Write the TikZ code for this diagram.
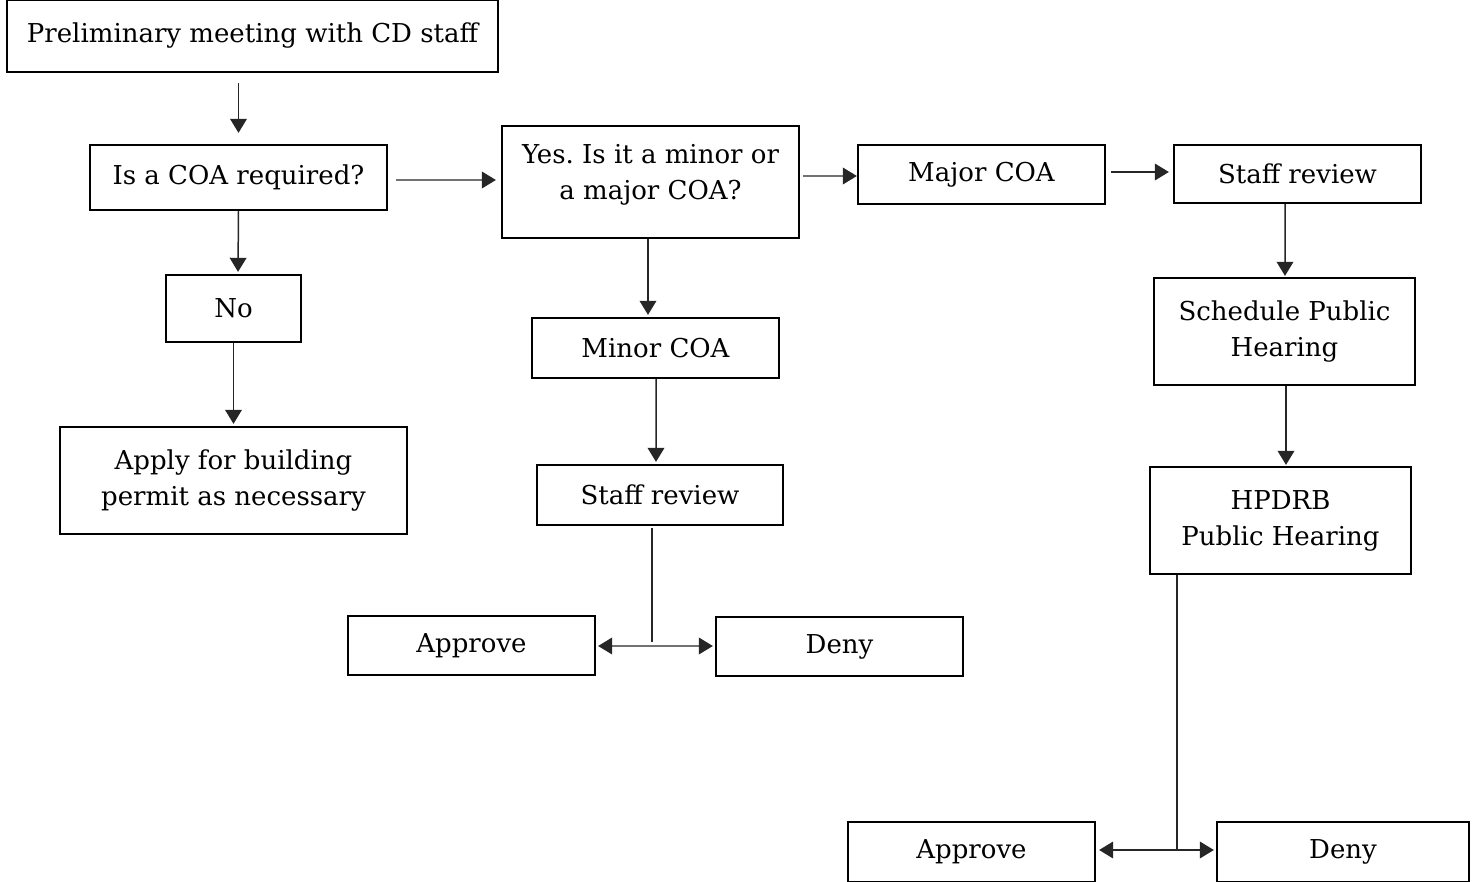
\documentclass[tikz,border=0pt]{standalone}
\usepackage{fontspec}
\setmainfont{DejaVu Serif}
\usetikzlibrary{arrows.meta}
\usetikzlibrary{calc}
\frenchspacing

\tikzset{
  box/.style={draw, line width=1.3pt, align=center, font=\fontsize{14.8}{20.5}\selectfont, inner sep=0pt},
  link/.style={line width=0.85pt, draw=black!85, -{Triangle[length=8pt,width=9.5pt]}},
  twolink/.style={line width=0.85pt, draw=black!85, {Triangle[length=8pt,width=9.5pt]}-{Triangle[length=8pt,width=9.5pt]}},
}

\begin{document}
\begin{tikzpicture}[x=0.02cm,y=-0.02cm]

        \useasboundingbox (0,0) rectangle (1472,882);

        % Left column
        \node[box, minimum width=9.82cm, minimum height=1.44cm] (prelim) at (252.5,36) {Preliminary meeting with CD staff};
        \node[box, minimum width=5.94cm, minimum height=1.30cm] (coareq) at (238.5,177.5) {Is a COA required?};
        \node[box, minimum width=2.70cm, minimum height=1.34cm] (no) at (233.5,308.5) {No};
        \node[box, minimum width=6.94cm, minimum height=2.14cm] (apply) at (233.5,480.5) {Apply for building\\permit as necessary};

        % Middle column
        \node[box, minimum width=5.94cm, minimum height=2.24cm] (minormajor) at (650.5,182) {Yes. Is it a minor or\\a major COA?\\[-8.6pt]};
        \node[box, minimum width=4.94cm, minimum height=1.20cm] (minor) at (655.5,348) {Minor COA};
        \node[box, minimum width=4.92cm, minimum height=1.20cm] (staffminor) at (660,495) {Staff review};
        \node[box, minimum width=4.94cm, minimum height=1.18cm] (approveminor) at (471.5,645.5) {Approve};
        \node[box, minimum width=4.94cm, minimum height=1.18cm] (denyminor) at (839.5,646.5) {Deny};

        % Right column
        \node[box, minimum width=4.94cm, minimum height=1.18cm] (major) at (981.5,174.5) {Major COA};
        \node[box, minimum width=4.94cm, minimum height=1.16cm] (staffmajor) at (1297.5,174) {Staff review};
        \node[box, minimum width=5.22cm, minimum height=2.14cm] (schedule) at (1284.5,331.5) {Schedule Public\\Hearing};
        \node[box, minimum width=5.22cm, minimum height=2.14cm] (hearing) at (1280.5,520.5) {HPDRB\\Public Hearing};
        \node[box, minimum width=4.94cm, minimum height=1.20cm] (approvemajor) at (971.5,852) {Approve};
        \node[box, minimum width=5.04cm, minimum height=1.20cm] (denymajor) at (1343,852) {Deny};

        % Arrows
        \draw[link] ($(prelim.south)+(-14,10)$) -- ($(coareq.north)+(0,-11)$);
        \draw[link] ($(coareq.east)+(8,2.5)$) -- ($(minormajor.west)+(-5,-2)$);
        \draw[link] ($(minormajor.east)+(3,-6)$) -- ($(major.west)+(0,1.5)$);
        \draw[link] ($(major.east)+(5,-2.5)$) -- ($(staffmajor.west)+(-4,-2)$);
        \draw[link] (coareq.south) -- ($(no.north)+(4.5,-2)$);
        \draw[link] (no.south) -- ($(apply.north)+(0,-2)$);
        \draw[link] ($(minormajor.south)+(-2.5,0)$) -- ($(minor.north)+(-7.5,-2)$);
        \draw[link] ($(minor.south)+(0.5,0)$) -- ($(staffminor.north)+(-4,-2)$);
        \draw[link] ($(staffmajor.south)+(-12.5,0)$) -- ($(schedule.north)+(0.5,-1)$);
        \draw[link] ($(schedule.south)+(1.5,0)$) -- ($(hearing.north)+(5.5,-1)$);

        % Outcomes
        \coordinate (splitminor) at ($(staffminor.south)+(-8,0)$);
        \coordinate (splitmajor) at ($(hearing.south west)+(28,0)$);
        \draw[line width=0.85pt, draw=black!85] ($(splitminor)+(0,2)$) -- ($(splitminor)+(0,116)$);
        \draw[twolink] ($(approveminor.east)+(2,0.5)$) -- ($(denyminor.west)+(-2,-0.5)$);
        \draw[line width=0.85pt, draw=black!85] (splitmajor) -- ($(splitmajor)+(0,276)$);
        \draw[twolink] ($(approvemajor.east)+(3,-2)$) -- ($(denymajor.west)+(-2,-2)$);
    \end{tikzpicture}
\end{document}
